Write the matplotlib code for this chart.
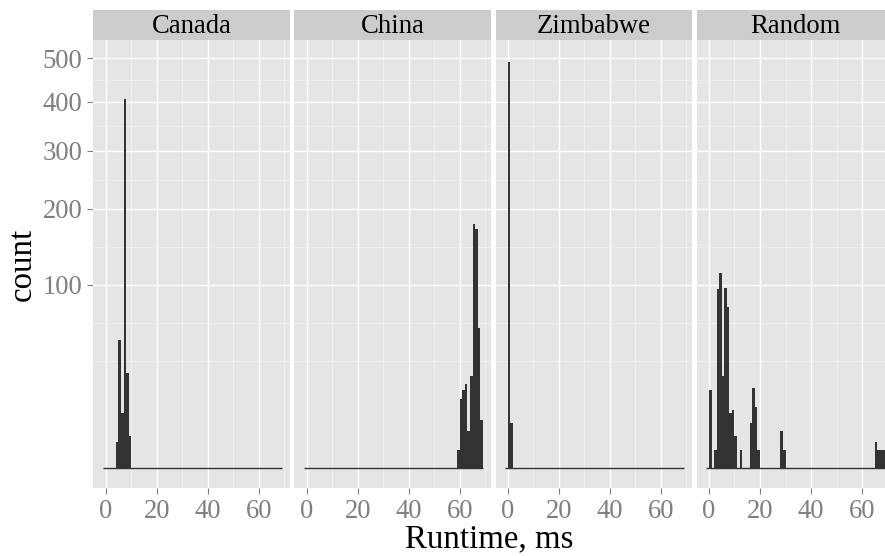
import numpy as np
import matplotlib.pyplot as plt

plt.rcParams['font.family'] = ['Liberation Serif', 'DejaVu Serif']

# facets and histogram data (bin start -> count, binwidth 1 ms)
panels = ['Canada', 'China', 'Zimbabwe', 'Random']
bin_edges = np.arange(-1, 70)

canada_bins = [4, 5, 6, 7, 8, 9]
canada_counts = [2, 49, 9, 406, 27, 3]

china_bins = [59, 60, 61, 62, 63, 64, 65, 66, 67, 68]
china_counts = [1, 14, 18, 21, 4, 25, 178, 170, 58, 7]

zimbabwe_bins = [0, 1]
zimbabwe_counts = [492, 6]

random_bins = [0, 2, 3, 4, 5, 6, 7, 8, 9, 10, 12, 16, 17, 18, 19, 28, 29, 65, 66, 67, 68]
random_counts = [18, 1, 95, 113, 25, 97, 77, 9, 10, 3, 1, 6, 19, 11, 1, 4, 1, 2, 1, 1, 1]

x_ticks = [0, 20, 40, 60]
y_ticks = [100, 200, 300, 400, 500]

series = {
    'Canada': (canada_bins, canada_counts),
    'China': (china_bins, china_counts),
    'Zimbabwe': (zimbabwe_bins, zimbabwe_counts),
    'Random': (random_bins, random_counts),
}


def fwd(y):
    return np.sign(y) * np.sqrt(np.abs(y))


def inv(y):
    return np.sign(y) * y ** 2


# minor breaks like ggplot: midpoints in sqrt space, one extra break below
sq = np.sqrt(y_ticks)
sq_ext = np.concatenate([[sq[0] - (sq[1] - sq[0])], sq])
y_minor = list(inv(sq_ext[:1])) + list(inv((sq_ext[:-1] + sq_ext[1:]) / 2))
x_minor = [10, 30, 50, 70]

W, H = 885, 556
fig = plt.figure(figsize=(W / 100, H / 100), dpi=100)

left0, step, width = 93.3, 201.1, 196.7
top, bottom = 40, 488.4
strip_top = 10

for i, name in enumerate(panels):
    l = left0 + i * step
    ax = fig.add_axes([l / W, 1 - bottom / H, width / W, (bottom - top) / H])
    ax.set_facecolor('#E5E5E5')
    ax.set_yscale('function', functions=(fwd, inv))

    bins, counts = series[name]
    full = np.zeros(len(bin_edges) - 1)
    for b, c in zip(bins, counts):
        full[b + 1] = c
    ax.bar(bin_edges[:-1], full, width=1, align='edge', color='#333333',
           linewidth=0, zorder=3)
    ax.hlines(0, bin_edges[0], bin_edges[-1], color='#333333', lw=1.0, zorder=3)

    ax.set_xlim(-4.86, 72.27)
    ax.set_ylim(-1.24, 545.8)

    for xm in x_minor:
        ax.axvline(xm, color='#F2F2F2', lw=0.6, zorder=1)
    for ym in y_minor:
        ax.axhline(ym, color='#F2F2F2', lw=0.6, zorder=1)
    for xt in x_ticks:
        ax.axvline(xt, color='white', lw=1.0, zorder=2)
    for yt in y_ticks:
        ax.axhline(yt, color='white', lw=1.0, zorder=2)

    ax.set_xticks(x_ticks)
    ax.set_xticklabels([str(t) for t in x_ticks])
    ax.set_yticks(y_ticks)
    ax.minorticks_off()
    ax.tick_params(axis='both', colors='#7F7F7F', labelcolor='#7F7F7F',
                   labelsize=19.2, length=4.3, width=0.8)
    ax.tick_params(axis='x', pad=3.2)
    if i == 0:
        ax.set_yticklabels([str(t) for t in y_ticks])
        ax.tick_params(axis='y', pad=3.6)
    else:
        ax.tick_params(axis='y', left=False, labelleft=False)
    for s in ax.spines.values():
        s.set_visible(False)

    # facet strip
    sax = fig.add_axes([l / W, 1 - top / H, width / W, (top - strip_top) / H])
    sax.set_facecolor('#CCCCCC')
    sax.set_xticks([])
    sax.set_yticks([])
    for s in sax.spines.values():
        s.set_visible(False)
    sax.text(0.5, 0.45, name, ha='center', va='center', fontsize=19.2,
             color='black', transform=sax.transAxes)

fig.text(489 / W, 1 - 547.5 / H, 'Runtime, ms', ha='center', va='baseline', fontsize=23.7)
fig.text(22.5 / W, 1 - 264.5 / H, 'count', ha='center', va='center',
         rotation=90, fontsize=23.7)

fig.savefig('out.png', dpi=100, facecolor='white')
